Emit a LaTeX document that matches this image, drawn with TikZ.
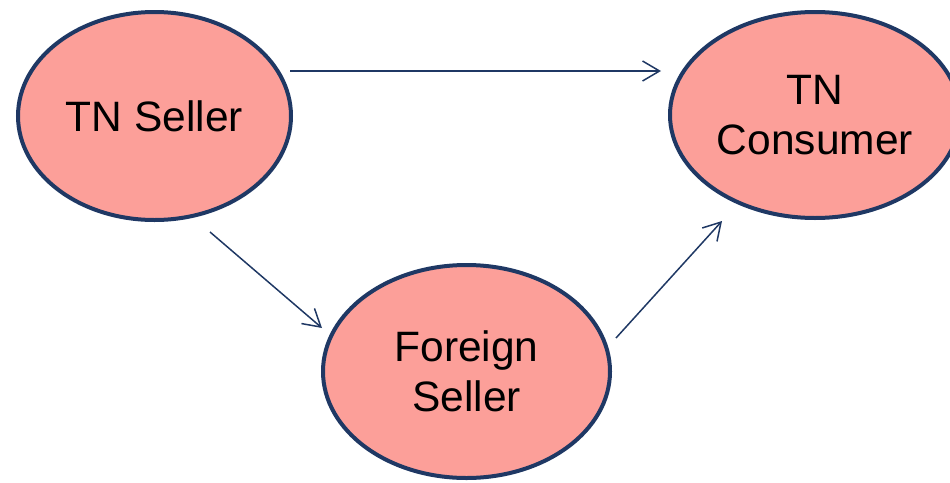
\documentclass[tikz,border=0pt]{standalone}
\usepackage{fontspec}
\setmainfont{Liberation Sans}
\usetikzlibrary{shapes.geometric,arrows.meta}
\definecolor{fillpink}{HTML}{FC9F99}
\definecolor{edgenavy}{HTML}{1F3864}
\tikzset{
  bubble/.style={ellipse, draw=edgenavy, fill=fillpink, line width=4pt, inner sep=0pt,
    align=center, font=\fontsize{42.5}{50}\selectfont},
  conn/.style={draw=edgenavy, line width=1.5pt, -{Straight Barb[length=17pt,width=20pt,line width=1.5pt]}}
}
\begin{document}
\begin{tikzpicture}[x=1pt,y=-1pt]
\useasboundingbox (0,0) rectangle (950,482);
\node[bubble, minimum width=273pt, minimum height=208pt] (s) at (154.5,116) {TN Seller};
\node[bubble, minimum width=290pt, minimum height=206pt] (c) at (815,115) {TN\\Consumer};
\node[bubble, minimum width=287pt, minimum height=213pt] (f) at (466.5,371.5) {Foreign\\Seller};
\coordinate (s1) at (290,71);
\coordinate (c1) at (661,71);
\coordinate (s2) at (210,232);
\coordinate (f2) at (322,328);
\coordinate (f3) at (616,338);
\coordinate (c3) at (722,221);
\draw[conn] (s1) -- (c1);
\draw[conn] (s2) -- (f2);
\draw[conn] (f3) -- (c3);
\end{tikzpicture}
\end{document}
